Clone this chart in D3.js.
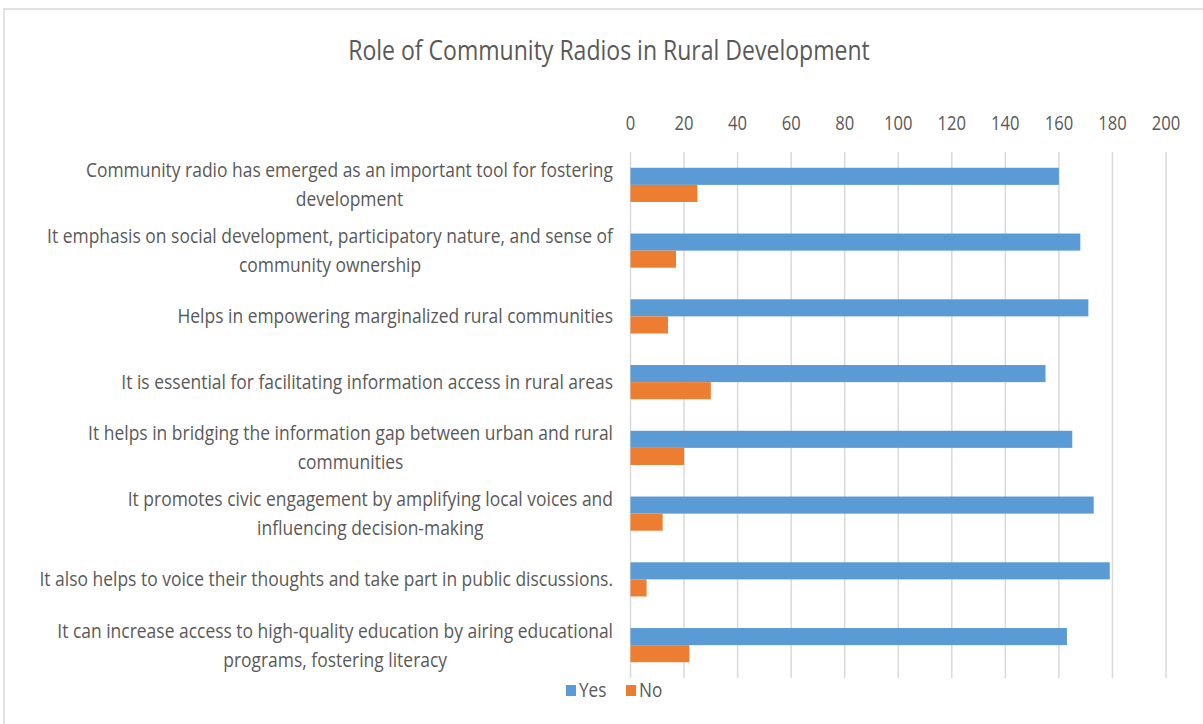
<!DOCTYPE html>
<html>
<head>
<meta charset="utf-8">
<script src="https://cdn.jsdelivr.net/npm/d3@7"></script>
<style>
  body { margin: 0; background: #fff; }
  svg text { font-family: "Open Sans", sans-serif; fill: #595959; }
</style>
</head>
<body>
<script>
'use strict';

// chart data
var categories = [
    'Community radio has emerged as an important tool for fostering\ndevelopment',
    'It emphasis on social development, participatory nature, and sense of\ncommunity ownership',
    'Helps in empowering marginalized rural communities',
    'It is essential for facilitating information access in rural areas',
    'It helps in bridging the information gap between urban and rural\ncommunities',
    'It promotes civic engagement by amplifying local voices and\ninfluencing decision-making',
    'It also helps to voice their thoughts and take part in public discussions.',
    'It can increase access to high-quality education by airing educational\nprograms, fostering literacy'
];
var yesValues = [160, 168, 171, 155, 165, 173, 179, 163];
var noValues = [25, 17, 14, 30, 20, 12, 6, 22];
var seriesNames = ['Yes', 'No'];
var seriesColors = ['#5B9BD5', '#ED7D31'];
var xTicks = [0, 20, 40, 60, 80, 100, 120, 140, 160, 180, 200];
var title = 'Role of Community Radios in Rural Development';

var W = 1203, H = 724;
var plot = { left: 630.5, right: 1166, top: 152, bottom: 678 };
// the source picture is squeezed sideways, so text is narrowed a bit
var squeeze = 0.873;

var svg = d3.select('body').append('svg').attr('width', W).attr('height', H);

// helper: a text placed at (px,py) and narrowed horizontally
function narrowText(parent, px, py, size, sx) {
    return parent.append('g')
        .attr('transform', 'translate(' + px + ',' + py + ') scale(' + sx + ',1)')
        .append('text').attr('font-size', size + 'px');
}

// outer chart border
svg.append('rect')
    .attr('x', 4).attr('y', 9).attr('width', W + 10).attr('height', H + 10)
    .attr('fill', '#fff').attr('stroke', '#d9d9d9').attr('stroke-width', 1.5);

narrowText(svg, 609, 60, 28, 0.823)
    .attr('text-anchor', 'middle')
    .text(title);

var x = d3.scaleLinear().domain([0, 200]).range([plot.left, plot.right]);
var y = d3.scaleBand().domain(d3.range(categories.length))
    .range([plot.top, plot.bottom]).paddingInner(0.48).paddingOuter(0.24);
var ySub = d3.scaleBand().domain([0, 1]).range([0, y.bandwidth()]);

// gridlines
svg.append('g').selectAll('line').data(xTicks).enter().append('line')
    .attr('x1', function (d) { return x(d); })
    .attr('x2', function (d) { return x(d); })
    .attr('y1', plot.top).attr('y2', plot.bottom)
    .attr('stroke', '#d9d9d9').attr('stroke-width', 1.5);

// tick labels along the top
var tickG = svg.append('g');
xTicks.forEach(function (d) {
    narrowText(tickG, x(d), 130, 20, 0.83)
        .attr('text-anchor', 'middle')
        .text(d);
});

// bars
var rows = categories.map(function (c, i) {
    return { i: i, values: [yesValues[i], noValues[i]] };
});
var groups = svg.append('g').selectAll('g').data(rows).enter().append('g')
    .attr('transform', function (d) { return 'translate(0,' + y(d.i) + ')'; });
groups.selectAll('rect').data(function (d) { return d.values; }).enter().append('rect')
    .attr('x', x(0))
    .attr('y', function (d, j) { return ySub(j); })
    .attr('width', function (d) { return x(d) - x(0); })
    .attr('height', ySub.bandwidth())
    .attr('fill', function (d, j) { return seriesColors[j]; });

// category labels, right aligned block with centred lines
var labelRight = 613, lineGap = 29;
categories.forEach(function (c, i) {
    var lines = c.split('\n');
    var cy = y(i) + y.bandwidth() / 2;
    var t = narrowText(svg, labelRight, cy, 20, squeeze).attr('text-anchor', 'middle');
    lines.forEach(function (l, k) {
        t.append('tspan')
            .attr('y', (k - (lines.length - 1) / 2) * lineGap + 7)
            .text(l);
    });
    var maxW = 0;
    t.selectAll('tspan').each(function () {
        maxW = Math.max(maxW, this.getComputedTextLength());
    });
    t.selectAll('tspan').attr('x', -maxW / 2);
});

// legend
var legend = svg.append('g');
var lx = [566, 626];
seriesNames.forEach(function (s, j) {
    legend.append('rect')
        .attr('x', lx[j]).attr('y', 685).attr('width', 10).attr('height', 11)
        .attr('fill', seriesColors[j]);
    narrowText(legend, lx[j] + 13, 697, 20, 0.86).text(s);
});
</script>
</body>
</html>
